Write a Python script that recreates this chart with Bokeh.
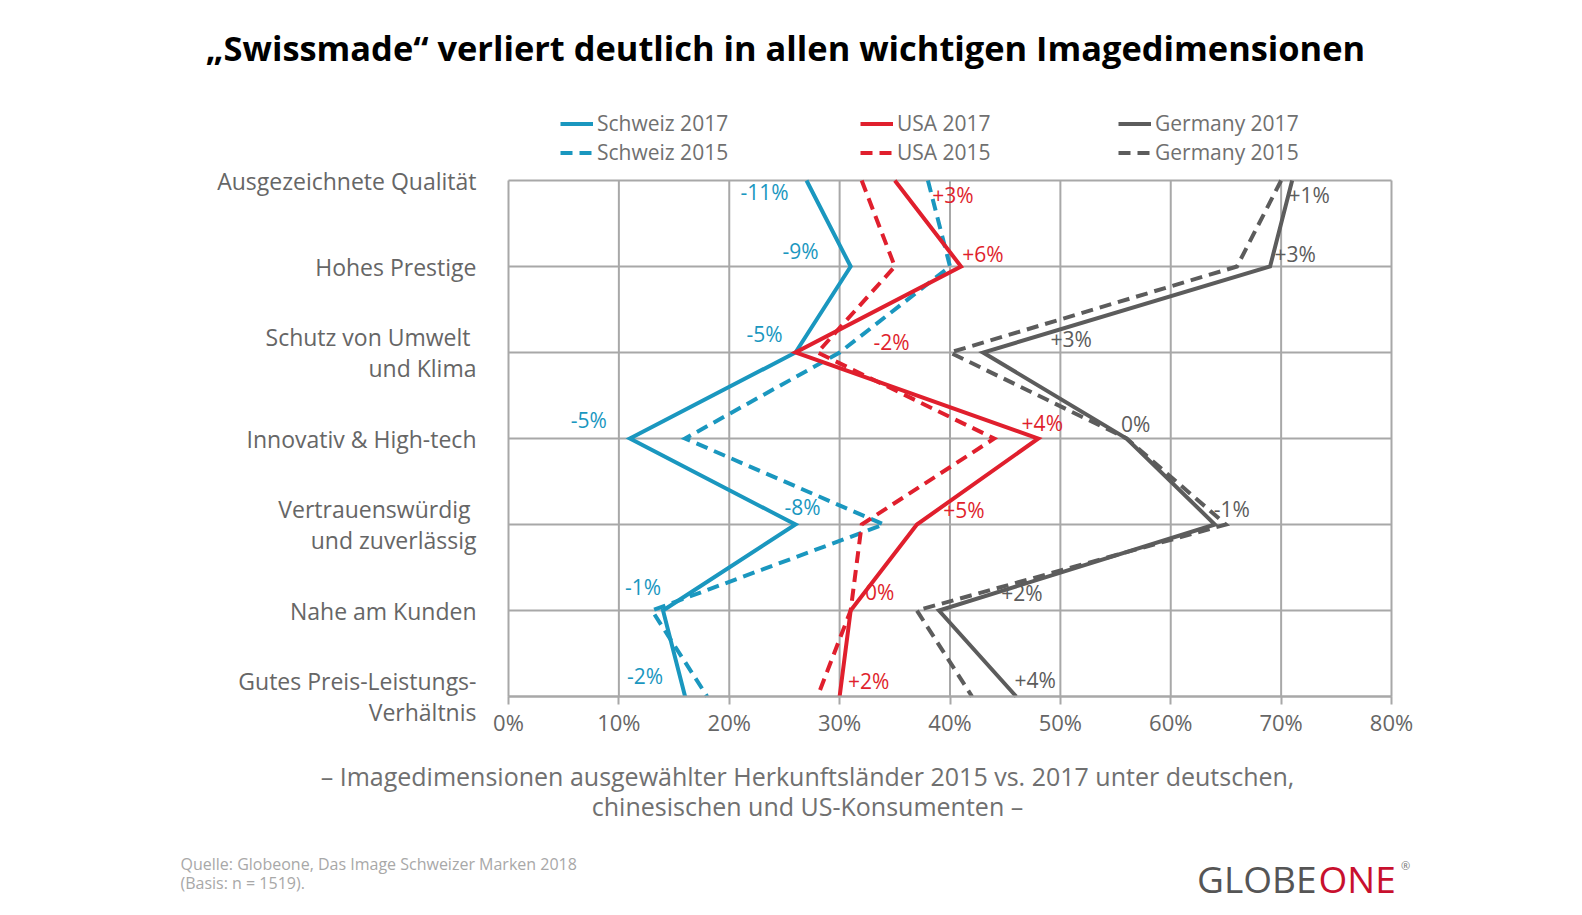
from bokeh.plotting import figure
from bokeh.models import Range1d, FixedTicker, Label, Legend, LegendItem, ColumnDataSource
from bokeh.core.properties import value
from bokeh.embed import file_html
from bokeh.resources import INLINE

# ---------------- data ----------------
categories = [
    "Ausgezeichnete Qualität",
    "Hohes Prestige",
    "Schutz von Umwelt \nund Klima",
    "Innovativ & High-tech",
    "Vertrauenswürdig \nund zuverlässig",
    "Nahe am Kunden",
    "Gutes Preis-Leistungs-\nVerhältnis",
]
rows = [0, 1, 2, 3, 4, 5, 6]
schweiz_2017 = [27, 31, 26, 11, 26, 14, 16]
schweiz_2015 = [38, 40, 30, 16, 34, 13, 18]
usa_2017 = [35, 41, 26, 48, 37, 31, 30]
usa_2015 = [32, 35, 28, 44, 32, 31, 28]
germany_2017 = [71, 69, 43, 56, 64, 39, 46]
germany_2015 = [70, 66, 40, 56, 65, 37, 42]
schweiz_delta = ["-11%", "-9%", "-5%", "-5%", "-8%", "-1%", "-2%"]
usa_delta = ["+3%", "+6%", "-2%", "+4%", "+5%", "0%", "+2%"]
germany_delta = ["+1%", "+3%", "+3%", "0%", "-1%", "+2%", "+4%"]
x_ticks = [0, 10, 20, 30, 40, 50, 60, 70, 80]
x_tick_labels = ["0%", "10%", "20%", "30%", "40%", "50%", "60%", "70%", "80%"]

# ---------------- style / layout ----------------
BLUE = "#1A97BF"
RED = "#E01F2D"
GRAY = "#5C5C5C"
GRID = "#A8A8A8"
TXT = "#666666"
FONT = "Open Sans"
DASH = "12 7"

W, H = 1560, 899
# pixel box of the chart area inside the canvas
PX_LEFT, PX_RIGHT, PX_TOP, PX_BOTTOM = 508, 1391, 180, 696

schweiz_dx = [-42, -50, -31, -41, 7, -20, -40]
schweiz_dy = [11, -16, -19, -19, -18, -24, -21]
usa_dx = [58, 22, 96, 4, 47, 29, 29]
usa_dy = [14, -13, -11, -16, -15, -19, -16]
germany_dx = [17, 25, 88, 9, 17, 83, 19]
germany_dy = [14, -13, -14, -15, -16, -18, -17]

series = [
    ("Schweiz 2017", schweiz_2017, BLUE, "solid"),
    ("Schweiz 2015", schweiz_2015, BLUE, DASH),
    ("USA 2017", usa_2017, RED, "solid"),
    ("USA 2015", usa_2015, RED, DASH),
    ("Germany 2017", germany_2017, GRAY, "solid"),
    ("Germany 2015", germany_2015, GRAY, DASH),
]

# ranges chosen so that the value axis 0..80 and the rows 0..6 fill the chart box
x0, x1 = x_ticks[0], x_ticks[-1]
r0, r1 = rows[0], rows[-1]
xs = (x1 - x0) / (PX_RIGHT - PX_LEFT)
ys = (r1 - r0) / (PX_BOTTOM - PX_TOP)
x_range = Range1d(x0 - PX_LEFT * xs, x1 + (W - PX_RIGHT) * xs)
y_range = Range1d(r1 + (H - PX_BOTTOM) * ys, r0 - PX_TOP * ys)

p = figure(width=W, height=H, x_range=x_range, y_range=y_range,
           output_backend="svg", toolbar_location=None, min_border=0)
p.background_fill_color = "white"
p.border_fill_color = "white"
p.outline_line_color = None
p.xgrid.visible = False
p.ygrid.visible = False

# grid lines of the chart box (from the tick positions)
n = len(x_ticks)
p.segment(x0=x_ticks, y0=[r0] * n, x1=x_ticks, y1=[r1] * n, line_color=GRID, line_width=2)
m = len(rows)
p.segment(x0=[x0] * m, y0=rows, x1=[x1] * m, y1=rows, line_color=GRID, line_width=2)

# axes drawn at fixed positions of the chart box
p.xaxis.fixed_location = r1
p.xaxis.bounds = (x0, x1)
p.xaxis.ticker = FixedTicker(ticks=x_ticks)
p.xaxis.major_label_overrides = {t: l for t, l in zip(x_ticks, x_tick_labels)}
p.xaxis.axis_line_color = GRID
p.xaxis.axis_line_width = 2
p.xaxis.major_tick_line_color = GRID
p.xaxis.major_tick_line_width = 2
p.xaxis.major_tick_out = 8
p.xaxis.major_tick_in = 0
p.xaxis.minor_tick_line_color = None
p.xaxis.major_label_standoff = 2
p.xaxis.major_label_text_font = FONT
p.xaxis.major_label_text_font_size = "22px"
p.xaxis.major_label_text_color = TXT

p.yaxis.fixed_location = x0
p.yaxis.bounds = (r0, r1)
p.yaxis.ticker = FixedTicker(ticks=rows)
p.yaxis.major_label_overrides = {r: c for r, c in zip(rows, categories)}
p.yaxis.axis_line_color = None
p.yaxis.major_tick_line_color = None
p.yaxis.minor_tick_line_color = None
p.yaxis.major_label_standoff = 26
p.yaxis.major_label_text_font = FONT
p.yaxis.major_label_text_font_size = "23px"
p.yaxis.major_label_text_color = TXT
p.yaxis.major_label_text_line_height = 0.96

# series
renderers = {}
for name, vals, col, dash in series:
    renderers[name] = p.line(vals, rows, line_color=col, line_width=4, line_dash=dash,
                             line_join="miter")

# change labels
for vals, deltas, dx, dy, col in [
    (schweiz_2017, schweiz_delta, schweiz_dx, schweiz_dy, BLUE),
    (usa_2017, usa_delta, usa_dx, usa_dy, RED),
    (germany_2017, germany_delta, germany_dx, germany_dy, GRAY),
]:
    src = ColumnDataSource(dict(x=vals, y=rows, t=deltas, dx=dx, dy=dy))
    p.text(x="x", y="y", text="t", x_offset="dx", y_offset="dy", source=src,
           text_color=col, text_font=value(FONT), text_font_size="21px",
           text_align="center", text_baseline="middle")

# legend: three columns of two entries above the chart box
for (a, b), lx in zip([("Schweiz 2017", "Schweiz 2015"),
                       ("USA 2017", "USA 2015"),
                       ("Germany 2017", "Germany 2015")], [560, 860, 1118]):
    leg = Legend(items=[LegendItem(label=a, renderers=[renderers[a]]),
                        LegendItem(label=b, renderers=[renderers[b]])],
                 location=(lx, H - 166), orientation="vertical",
                 label_text_font=FONT, label_text_font_size="21px", label_text_color="#707070",
                 border_line_color=None, background_fill_alpha=0, padding=0, margin=0,
                 spacing=1, glyph_width=33, glyph_height=25, label_height=25,
                 label_standoff=4)
    p.add_layout(leg)


def lab(x, y_top, text, size, color, align="center", bold=False):
    p.add_layout(Label(x=x, y=H - y_top, x_units="screen", y_units="screen", text=text,
                       text_font=FONT, text_font_size=f"{size}px", text_color=color,
                       text_align=align, text_baseline="middle",
                       text_font_style="bold" if bold else "normal"))


lab(785, 47, "„Swissmade“ verliert deutlich in allen wichtigen Imagedimensionen", 34.4,
    "#000000", bold=True)
lab(807, 775, "– Imagedimensionen ausgewählter Herkunftsländer 2015 vs. 2017 unter deutschen,",
    25, "#707070")
lab(807, 805, "chinesischen und US-Konsumenten –", 25, "#707070")
lab(180, 863, "Quelle: Globeone, Das Image Schweizer Marken 2018", 16, "#A8A8A8", align="left")
lab(180, 882, "(Basis: n =  1519).", 16, "#A8A8A8", align="left")
lab(1316, 878, "GLOBE", 37, "#555555", align="right")
lab(1318, 878, "ONE", 37, "#C8102E", align="left")
lab(1405, 865, "®", 11, "#777777")

open("out.html", "w").write(file_html(p, INLINE))
